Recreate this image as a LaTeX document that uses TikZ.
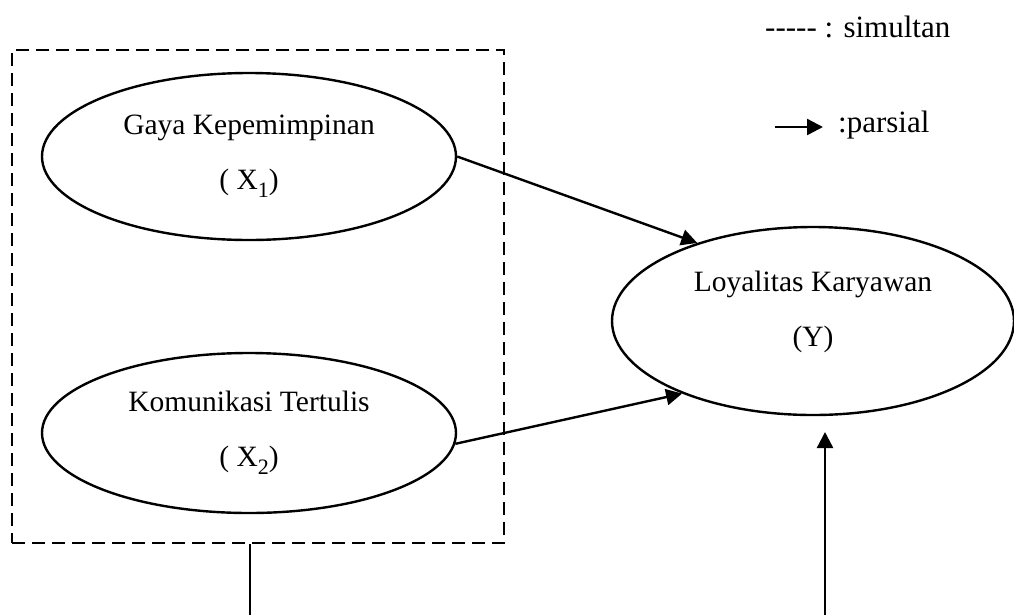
\documentclass[tikz,border=0pt]{standalone}
\usepackage{fontspec}
\setmainfont{Liberation Serif}
\usetikzlibrary{arrows.meta,shapes.geometric}
\newcommand{\sbs}[1]{\raisebox{-0.28em}{\fontsize{22}{22}\selectfont #1}}
\begin{document}
\begin{tikzpicture}[x=1pt,y=-1pt,
  var/.style={ellipse,draw,line width=2.4pt,inner sep=0pt,align=center,font=\fontsize{29.5}{55}\selectfont},
  arr/.style={line width=2.4pt,-{Triangle[length=16pt,width=16pt]}},
  plain/.style={line width=2.4pt},
  simul/.style={draw,line width=1.6pt,dash pattern=on 13pt off 7pt,inner sep=0pt},
  legtext/.style={anchor=base west,inner sep=0pt,font=\fontsize{31}{31}\selectfont}]
\useasboundingbox (0,0) rectangle (1014,614);
% simultaneous box
\node[simul,minimum width=492pt,minimum height=493pt] (box) at (258,296.5) {};
% variables
\node[var,minimum width=414pt,minimum height=167pt] (X1) at (249,156.5) {Gaya Kepemimpinan\\( X\sbs{1})};
\node[var,minimum width=414pt,minimum height=160pt] (X2) at (249,433) {Komunikasi Tertulis\\( X\sbs{2})};
\node[var,minimum width=402pt,minimum height=188pt,text depth=24pt] (Y) at (813,321) {Loyalitas Karyawan\\(Y)};
% partial arrows
\draw[arr] (X1.east) -- (Y.146.6);
\draw[arr] (X2.-3) -- (Y.209.7);
% simultaneous connectors
\coordinate (sb) at (250,616);
\draw[plain] (sb |- box.south) -- (sb);
\coordinate (yb) at (825,616);
\coordinate (yt) at (825,432);
\draw[arr] (yb) -- (yt);
% legend
\node[legtext] (leg1) at (765,37) {\mbox{-}\mbox{-}\mbox{-}\mbox{-}\mbox{-} : simultan};
\coordinate (la1) at (775,127);
\coordinate (la2) at (823,127);
\draw[arr] (la1) -- (la2);
\node[legtext] (leg2) at (838,132) {:parsial};
\end{tikzpicture}
\end{document}
